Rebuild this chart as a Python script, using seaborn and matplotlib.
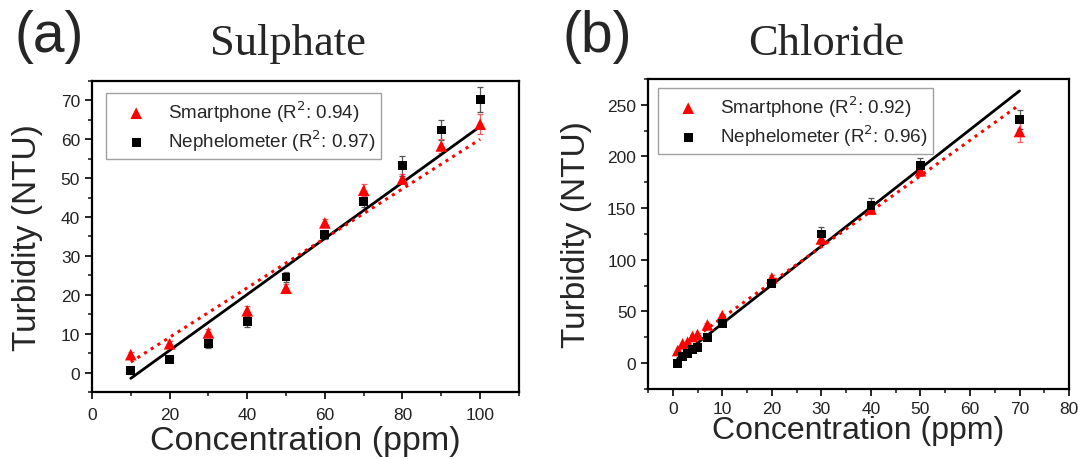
import numpy as np
import pandas as pd
import seaborn as sns
import matplotlib.pyplot as plt
from matplotlib.ticker import MultipleLocator

# Sulphate panel data
sul_conc = [10, 20, 30, 40, 50, 60, 70, 80, 90, 100]
sul_phone = [4.6, 7.4, 10.2, 15.9, 21.7, 38.5, 46.9, 49.8, 58.3, 63.9]
sul_phone_err = [0.6, 0.8, 1.0, 1.2, 1.2, 1.0, 1.5, 1.3, 1.8, 2.6]
sul_neph = [0.5, 3.3, 7.4, 13.1, 24.6, 35.5, 44.1, 53.2, 62.4, 70.3]
sul_neph_err = [0.8, 0.6, 1.2, 1.5, 1.3, 1.2, 1.5, 2.6, 2.6, 3.2]
sul_fit_x = [10, 100]
sul_fit_phone = [2.7, 60.0]
sul_fit_neph = [-1.5, 63.3]

# Chloride panel data
chl_conc = [1, 2, 3, 4, 5, 7, 10, 20, 30, 40, 50, 70]
chl_phone = [12.2, 18.7, 20.3, 25.8, 27.7, 37.0, 46.0, 82.5, 120.2, 149.2, 186.2, 224.2]
chl_phone_err = [1.0, 1.0, 1.0, 1.0, 1.0, 1.5, 2.0, 3.0, 5.0, 5.0, 5.0, 9.7]
chl_neph = [0.0, 6.4, 9.7, 12.9, 15.5, 25.1, 38.0, 77.3, 125.0, 152.4, 191.0, 235.5]
chl_neph_err = [1.0, 1.0, 1.0, 1.0, 1.0, 1.5, 2.0, 3.0, 6.4, 7.4, 8.0, 9.3]
chl_fit_x = [1, 70]
chl_fit_phone = [13.0, 250.0]
chl_fit_neph = [4.5, 263.5]

sns.set_style("ticks")
plt.rcParams['font.family'] = ['Liberation Sans', 'DejaVu Sans']

fig = plt.figure(figsize=(10.78, 4.6), dpi=100)
ax_a = fig.add_axes([0.0853, 0.1457, 0.3961, 0.676])
ax_b = fig.add_axes([0.6011, 0.1522, 0.3906, 0.6739])


def draw_panel(ax, conc, phone, phone_err, neph, neph_err, fit_x, fit_phone, fit_neph,
               r2_phone, r2_neph):
    # error bars first, markers on top
    ax.errorbar(conc, neph, yerr=neph_err, fmt='none', ecolor='#555555',
                elinewidth=0.9, capsize=2.5, capthick=0.9, zorder=2)
    ax.errorbar(conc, phone, yerr=phone_err, fmt='none', ecolor='#f06060',
                elinewidth=0.9, capsize=2.5, capthick=0.9, zorder=2)
    fit = pd.DataFrame({'x': fit_x, 'phone': fit_phone, 'neph': fit_neph})
    sns.lineplot(data=fit, x='x', y='neph', color='black', lw=2, ax=ax, zorder=3)
    sns.lineplot(data=fit, x='x', y='phone', color='red', lw=2.2, ls=(0, (1, 1.6)),
                 ax=ax, zorder=3)
    pts = pd.DataFrame({'x': conc, 'phone': phone, 'neph': neph})
    sns.scatterplot(data=pts, x='x', y='phone', marker='^', color='red', s=70,
                    edgecolor='none', ax=ax, zorder=4,
                    label='Smartphone (R$^2$: %s)' % r2_phone)
    sns.scatterplot(data=pts, x='x', y='neph', marker='s', color='black', s=40,
                    edgecolor='none', ax=ax, zorder=5,
                    label='Nephelometer (R$^2$: %s)' % r2_neph)
    for sp in ax.spines.values():
        sp.set_linewidth(1.6)
        sp.set_color('black')
    ax.tick_params(which='major', direction='out', length=5, width=1.4,
                   labelsize=12.5, labelcolor='#222222', top=False, right=False)
    ax.tick_params(which='minor', direction='out', length=3, width=1.2,
                   top=False, right=False)
    ax.set_ylabel('Turbidity (NTU)', fontsize=24)
    leg = ax.legend(loc='upper left', fontsize=13.6, frameon=True, fancybox=False,
                    edgecolor='#888888', handletextpad=0.4, borderpad=0.3,
                    labelspacing=0.2, borderaxespad=0, handlelength=2.6)
    leg.get_frame().set_linewidth(1.0)


draw_panel(ax_a, sul_conc, sul_phone, sul_phone_err, sul_neph, sul_neph_err,
           sul_fit_x, sul_fit_phone, sul_fit_neph, '0.94', '0.97')
ax_a.set_xlim(0, 110)
ax_a.set_ylim(-5, 75)
ax_a.xaxis.set_major_locator(MultipleLocator(20))
ax_a.xaxis.set_minor_locator(MultipleLocator(10))
ax_a.yaxis.set_major_locator(MultipleLocator(10))
ax_a.yaxis.set_minor_locator(MultipleLocator(5))
ax_a.tick_params(axis='x', which='major', pad=6)
ax_a.set_xlabel('Concentration (ppm)', fontsize=24.5)
ax_a.xaxis.set_label_coords(0.5, -0.105)
ax_a.yaxis.set_label_coords(-0.115, 0.5)
ax_a.legend_.set_bbox_to_anchor((14 / 427, 1 - 12 / 311))

draw_panel(ax_b, chl_conc, chl_phone, chl_phone_err, chl_neph, chl_neph_err,
           chl_fit_x, chl_fit_phone, chl_fit_neph, '0.92', '0.96')
ax_b.set_xlim(-5, 80)
ax_b.set_ylim(-25, 275)
ax_b.xaxis.set_major_locator(MultipleLocator(10))
ax_b.xaxis.set_minor_locator(MultipleLocator(5))
ax_b.yaxis.set_major_locator(MultipleLocator(50))
ax_b.yaxis.set_minor_locator(MultipleLocator(25))
ax_b.set_xlabel('Concentration (ppm)', fontsize=23)
ax_b.xaxis.set_label_coords(0.5, -0.085)
ax_b.yaxis.set_label_coords(-0.133, 0.5)
ax_b.legend_.set_bbox_to_anchor((10 / 421, 1 - 9 / 310))

# panel letters and titles
fig.text(15 / 1078, 1 - 37 / 460, '(a)', fontsize=41, va='center', ha='left')
fig.text(562 / 1078, 1 - 37 / 460, '(b)', fontsize=41, va='center', ha='left')
fig.text(288 / 1078, 1 - 55 / 460, 'Sulphate', fontsize=32, ha='center',
         va='baseline', family=['Liberation Serif', 'DejaVu Serif'])
fig.text(826 / 1078, 1 - 55 / 460, 'Chloride', fontsize=32, ha='center',
         va='baseline', family=['Liberation Serif', 'DejaVu Serif'])

fig.savefig('out.png', dpi=100, facecolor='white')
